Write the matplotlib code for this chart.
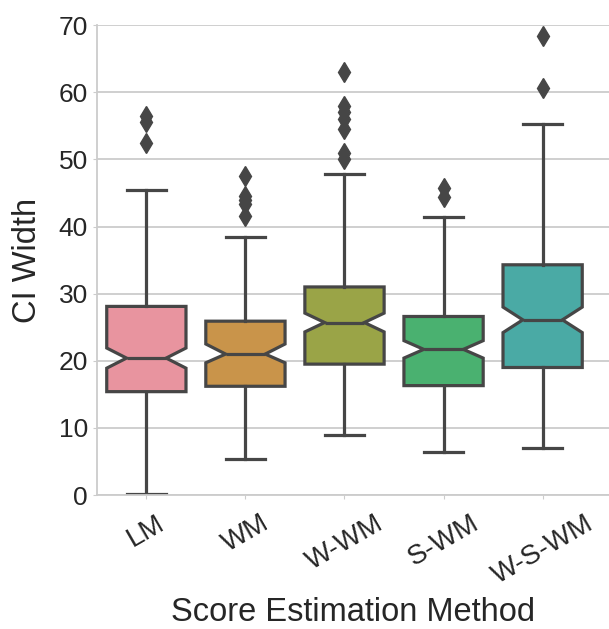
import matplotlib
matplotlib.use("Agg")
import matplotlib.pyplot as plt

# values
methods = ["LM", "WM", "W-WM", "S-WM", "W-S-WM"]
whisker_lo = [0.1, 5.4, 8.9, 6.4, 7.0]
q1 = [15.4, 16.2, 19.5, 16.3, 19.0]
medians = [20.4, 21.0, 25.7, 21.7, 26.1]
q3 = [28.1, 25.9, 31.0, 26.6, 34.3]
whisker_hi = [45.4, 38.4, 47.9, 41.4, 55.3]
notch_lo = [18.9, 19.7, 24.3, 20.4, 24.2]
notch_hi = [21.9, 22.5, 27.1, 23.0, 28.0]
outliers = [
    [56.5, 55.5, 52.5],
    [47.5, 44.5, 43.9, 43.4, 41.5],
    [63.0, 58.0, 57.0, 56.0, 54.6, 51.0, 50.0],
    [45.7, 44.4],
    [68.4, 60.7],
]
box_colors = ["#e8949f", "#c9944a", "#9aa447", "#4ab170", "#4aaaa5"]

plt.rcParams["font.family"] = ["Liberation Sans", "DejaVu Sans"]
edge = "#464646"

fig = plt.figure(figsize=(6.09, 6.29), dpi=100)
ax = fig.add_axes([0.159, 0.213, 0.841, 0.747])

stats = []
for i, m in enumerate(methods):
    stats.append(dict(label=m, whislo=whisker_lo[i], q1=q1[i], med=medians[i],
                      q3=q3[i], whishi=whisker_hi[i], cilo=notch_lo[i],
                      cihi=notch_hi[i], fliers=outliers[i]))

lw = 2.3
bp = ax.bxp(stats, positions=range(len(methods)), widths=0.8, shownotches=True,
            patch_artist=True,
            boxprops=dict(linewidth=lw, edgecolor=edge),
            medianprops=dict(color=edge, linewidth=lw),
            whiskerprops=dict(color=edge, linewidth=lw),
            capprops=dict(color=edge, linewidth=lw),
            flierprops=dict(marker="d", markersize=10, markerfacecolor=edge,
                            markeredgecolor=edge))
for patch, c in zip(bp["boxes"], box_colors):
    patch.set_facecolor(c)
for cap in bp["caps"]:
    x = cap.get_xdata()
    mid = (x[0] + x[1]) / 2
    cap.set_xdata([mid - 0.2, mid + 0.2])

ax.set_xlim(-0.5, 4.67)
ax.set_ylim(0, 70)
ax.set_yticks(range(0, 71, 10))
ax.set_xticks(range(len(methods)))
ax.set_xticklabels(methods, rotation=30)
ax.grid(axis="y", color="#cccccc", linewidth=1.3)
ax.set_axisbelow(True)
for s in ["top", "right"]:
    ax.spines[s].set_visible(False)
for s in ["left", "bottom"]:
    ax.spines[s].set_color("#cccccc")
    ax.spines[s].set_linewidth(1.3)
ax.tick_params(colors="#cccccc", labelcolor="#262626", labelsize=19, length=3)
ax.tick_params(axis="x", labelsize=20, pad=8)
ax.set_xlabel("Score Estimation Method", fontsize=23.5, color="#262626", labelpad=6)
ax.set_ylabel("CI Width", fontsize=23.5, color="#262626", labelpad=11)

fig.savefig("out.png", dpi=100)
